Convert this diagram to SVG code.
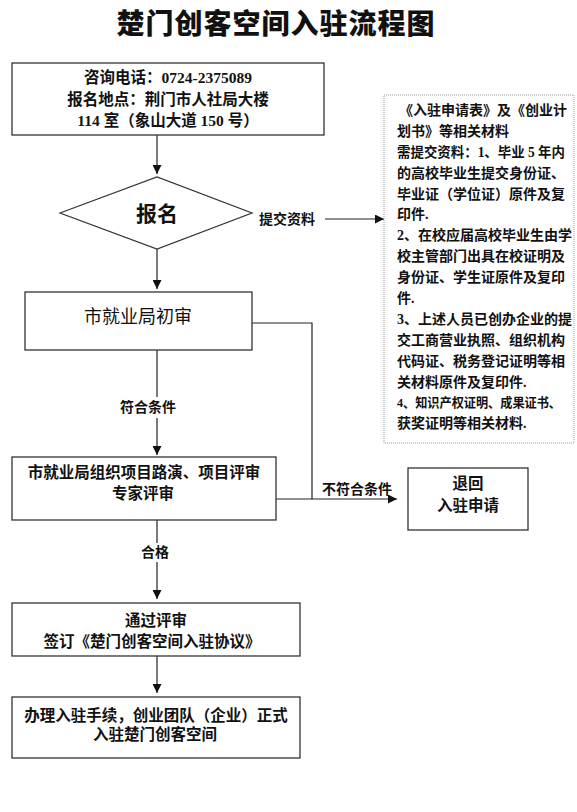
<svg xmlns="http://www.w3.org/2000/svg" width="577" height="812" viewBox="0 0 577 812">
<defs>
<marker id="ah" viewBox="0 0 10 10" refX="10" refY="5" markerWidth="9" markerHeight="9" markerUnits="userSpaceOnUse" orient="auto">
<path d="M0,0 L10,5 L0,10 Z" fill="#111"/>
</marker>
<style>
text{font-family:"Liberation Serif","Noto Sans CJK SC",serif;font-weight:bold;fill:#111;dominant-baseline:central;text-anchor:middle}
.box{fill:#fff;stroke:#333;stroke-width:1.3}
.line{fill:none;stroke:#222;stroke-width:1.2}
.arr{fill:none;stroke:#222;stroke-width:1.2;marker-end:url(#ah)}
.t15{font-size:15.5px}
.lbl{font-size:14px}
.info{font-size:14px;text-anchor:start}
</style>
</defs>
<rect width="577" height="812" fill="#fff"/>
<text x="276" y="22" style="font-family:'Noto Sans CJK SC',sans-serif;font-size:28px;font-weight:900;letter-spacing:1px">楚门创客空间入驻流程图</text>

<g id="connectors">
<path class="arr" d="M157 135 V174"/>
<path class="arr" d="M157 249 V289"/>
<path class="arr" d="M325 219 H384"/>
<path class="line" d="M157 350 V397"/>
<path class="arr" d="M157 418 V455"/>
<path class="line" d="M252 323 H312 V499"/>
<path class="arr" d="M276 499 H397"/>
<path class="line" d="M157 520 V543"/>
<path class="arr" d="M157 562 V599"/>
<path class="arr" d="M157 656 V693"/>
<text class="lbl" x="287" y="219">提交资料</text>
<text class="lbl" x="148" y="407">符合条件</text>
<text class="lbl" x="357" y="489">不符合条件</text>
<text class="lbl" x="155" y="552">合格</text>
</g>

<g id="contact">
<rect class="box" x="12" y="63" width="312" height="72"/>
<text class="t15" x="168" y="77">咨询电话：0724-2375089</text>
<text class="t15" x="168" y="99">报名地点：荆门市人社局大楼</text>
<text class="t15" x="168" y="120">114 室（象山大道 150 号）</text>
</g>

<g id="signup">
<polygon points="60,213 157,177 252,213 157,249" fill="#fff" stroke="#333" stroke-width="1.2"/>
<text x="157" y="214" style="font-size:21px">报名</text>
</g>

<g id="materials">
<rect x="384" y="95" width="190" height="348" fill="#fff" stroke="#999" stroke-width="1" stroke-dasharray="1,1"/>
<text class="info" x="399" y="110">《入驻申请表》及《创业计</text>
<text class="info" x="397" y="131">划书》等相关材料</text>
<text class="info" x="397" y="152" textLength="168" lengthAdjust="spacingAndGlyphs">需提交资料：1、毕业 5 年内</text>
<text class="info" x="397" y="173">的高校毕业生提交身份证、</text>
<text class="info" x="397" y="194">毕业证（学位证）原件及复</text>
<text class="info" x="397" y="214">印件.</text>
<text class="info" x="397" y="235">2、在校应届高校毕业生由学</text>
<text class="info" x="397" y="256">校主管部门出具在校证明及</text>
<text class="info" x="397" y="277">身份证、学生证原件及复印</text>
<text class="info" x="397" y="298">件.</text>
<text class="info" x="397" y="319">3、上述人员已创办企业的提</text>
<text class="info" x="397" y="340">交工商营业执照、组织机构</text>
<text class="info" x="397" y="361">代码证、税务登记证明等相</text>
<text class="info" x="397" y="382">关材料原件及复印件.</text>
<text class="info" x="397" y="402" style="font-size:13px" textLength="164" lengthAdjust="spacingAndGlyphs">4、知识产权证明、成果证书、</text>
<text class="info" x="397" y="423">获奖证明等相关材料.</text>
</g>

<g id="initial-review">
<rect class="box" x="25" y="292" width="227" height="58"/>
<text x="138" y="317" style="font-size:18px;font-weight:normal">市就业局初审</text>
</g>

<g id="expert-review">
<rect class="box" x="12" y="457" width="264" height="63"/>
<text class="t15" x="144" y="472">市就业局组织项目路演、项目评审</text>
<text class="t15" x="143" y="493">专家评审</text>
</g>

<g id="reject">
<rect class="box" x="408" y="468" width="120" height="62"/>
<text class="t15" x="468" y="483">退回</text>
<text class="t15" x="468" y="505">入驻申请</text>
</g>

<g id="pass">
<rect class="box" x="12" y="603" width="288" height="53"/>
<text class="t15" x="156" y="620">通过评审</text>
<text class="t15" x="152" y="641">签订《楚门创客空间入驻协议》</text>
</g>

<g id="settle">
<rect class="box" x="12" y="697" width="288" height="61"/>
<text class="t15" x="156" y="715">办理入驻手续，创业团队（企业）正式</text>
<text class="t15" x="155" y="734">入驻楚门创客空间</text>
</g>
</svg>
